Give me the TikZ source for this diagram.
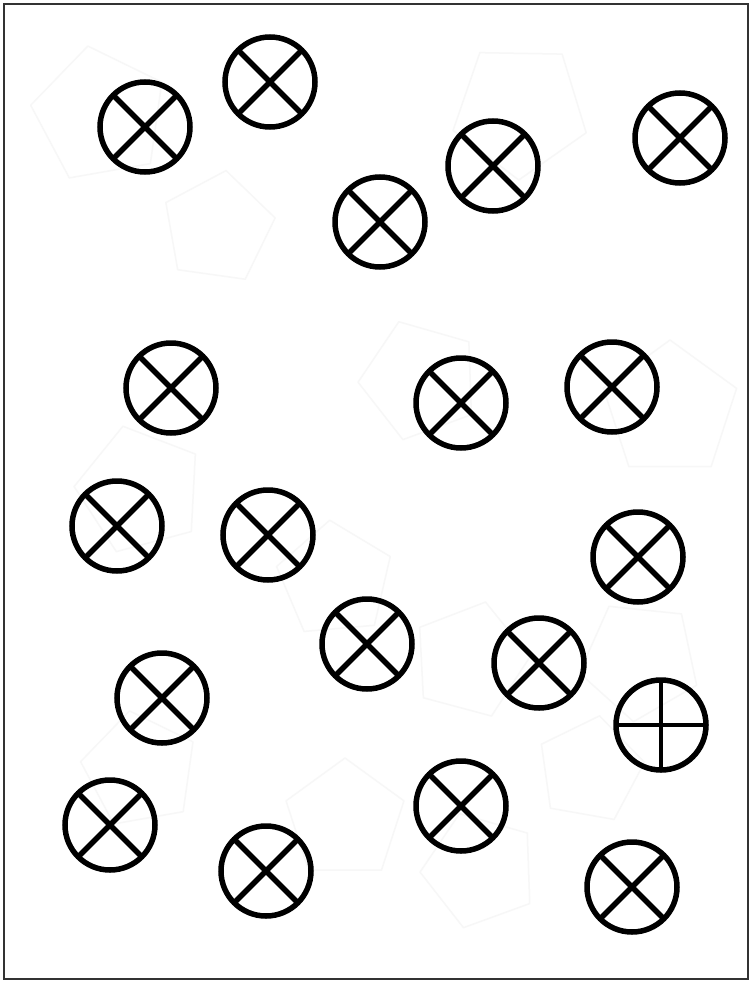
\documentclass[tikz,border=0pt]{standalone}
\begin{document}
\begin{tikzpicture}[x=1pt,y=-1pt,
  ring/.style={draw=black, circle, line width=5.5pt, minimum size=90pt, inner sep=0pt, outer sep=0pt},
  xbar/.style={line width=5.5pt, draw=black},
  pbar/.style={line width=3.8pt, draw=black},
  ghost/.style={draw=black!3, line width=1.5pt, line join=round},
  frame/.style={draw=black!80, line width=2pt}]
\useasboundingbox (0,0) rectangle (750,982);
\fill[white] (0,0) rectangle (750,982);
% faint background pentagons
\foreach \cx/\cy/\r/\a in {100/115/70/10, 218/228/58/-8, 420/380/62/20, 670/410/70/0, 140/490/66/15,
  335/580/60/5, 470/660/60/-15, 640/660/62/30, 140/770/60/10, 345/820/62/0, 480/870/60/20, 590/770/55/-10, 520/110/70/35}{
  \draw[ghost] ({\cx+\r*cos(90+\a)},{\cy-\r*sin(90+\a)})
    -- ({\cx+\r*cos(162+\a)},{\cy-\r*sin(162+\a)})
    -- ({\cx+\r*cos(234+\a)},{\cy-\r*sin(234+\a)})
    -- ({\cx+\r*cos(306+\a)},{\cy-\r*sin(306+\a)})
    -- ({\cx+\r*cos(18+\a)},{\cy-\r*sin(18+\a)}) -- cycle;
}
\draw[frame] (4,4) rectangle (748,979);
% crossed circles
\foreach \n/\x/\y in {c1/145/127, c2/270/82, c3/380/222, c4/493/166, c5/680/138,
  c6/171/388, c7/461/403, c8/612/387, c9/117/526, c10/268/535, c11/638/557,
  c12/367/644, c13/539/663, c14/162/698, c16/110/825, c17/266/871, c18/461/806, c19/632/887}{
  \node[ring] (\n) at (\x,\y) {};
  \draw[xbar] (\n.north west) -- (\n.south east);
  \draw[xbar] (\n.north east) -- (\n.south west);
}
% plus circle
\node[ring] (c15) at (661,725) {};
\draw[pbar] (c15.north) -- (c15.south);
\draw[pbar] (c15.west) -- (c15.east);
\end{tikzpicture}
\end{document}
